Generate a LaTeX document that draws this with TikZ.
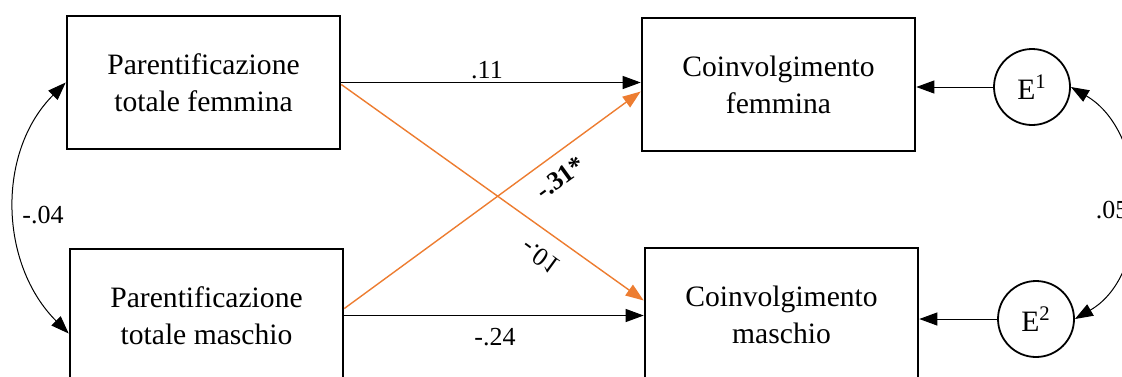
\documentclass[tikz,border=0pt]{standalone}
\usepackage{fontspec}
\setmainfont{Liberation Serif}
\usepackage{xcolor}
\usetikzlibrary{arrows.meta}
\definecolor{pathorange}{HTML}{ED7D31}

\begin{document}
\begin{tikzpicture}[x=0.5pt, y=-0.5pt,
  var/.style={rectangle, draw=black, line width=1.3pt, minimum width=136.5pt, minimum height=66.5pt, align=center, font=\fontsize{14.8}{18.5}\selectfont},
  err/.style={circle, draw=black, line width=0.9pt, minimum size=38pt, inner sep=0pt, font=\fontsize{14.8}{18}\selectfont},
  coef/.style={font=\fontsize{13}{15}\selectfont},
  arrow/.style={-{Triangle[length=9pt,width=6.5pt]}, line width=0.5pt},
  cross/.style={-{Triangle[length=9pt,width=6.5pt]}, draw=pathorange, line width=0.7pt},
  corr/.style={{Triangle[length=9pt,width=6.5pt]}-{Triangle[length=9pt,width=6.5pt]}, line width=0.5pt}
]
\useasboundingbox (0,0) rectangle (1122,376);

\node[var] (pf) at (203.5,82.5) {Parentificazione\\totale femmina};
\node[var] (pm) at (206.5,315.5) {Parentificazione\\totale maschio};
\node[var] (cf) at (778.5,84.5) {Coinvolgimento\\femmina};
\node[var] (cm) at (781.5,314.5) {Coinvolgimento\\maschio};
\node[err] (e1) at (1032,87) {E\textsuperscript{1}};
\node[err] (e2) at (1036,319) {E\textsuperscript{2}};

\draw[arrow] (pf.east) -- (pf.east -| cf.west);
\draw[arrow] (pm.east) -- (pm.east -| cm.west);
\draw[cross] ([yshift=-1pt]pf.east) -- ([yshift=7pt]cm.west);
\draw[cross] ([yshift=3.5pt]pm.east) -- ([yshift=-3.5pt]cf.west);
\draw[arrow] (e1) -- (e1 -| cf.east);
\draw[arrow] (e2) -- (e2 -| cm.east);
\draw[corr] (pf.west) to[out=225, in=135] ([yshift=-9pt]pm.west);
\draw[corr] (e1.east) to[out=-30, in=30] (e2.east);

\node[coef] (l11) at (487,70) {.11};
\node[coef] (l24) at (495,337) {-.24};
\node[coef] (l04) at (43,215) {-.04};
\node[coef] (l05) at (1112,210) {.05};
\node[coef, font=\fontsize{13}{15}\selectfont\bfseries, rotate=36] (l31) at (560,178) {-.31*};
\node[coef, rotate=-36, yscale=-1] (l01) at (540,257) {-.01};

\end{tikzpicture}
\end{document}
